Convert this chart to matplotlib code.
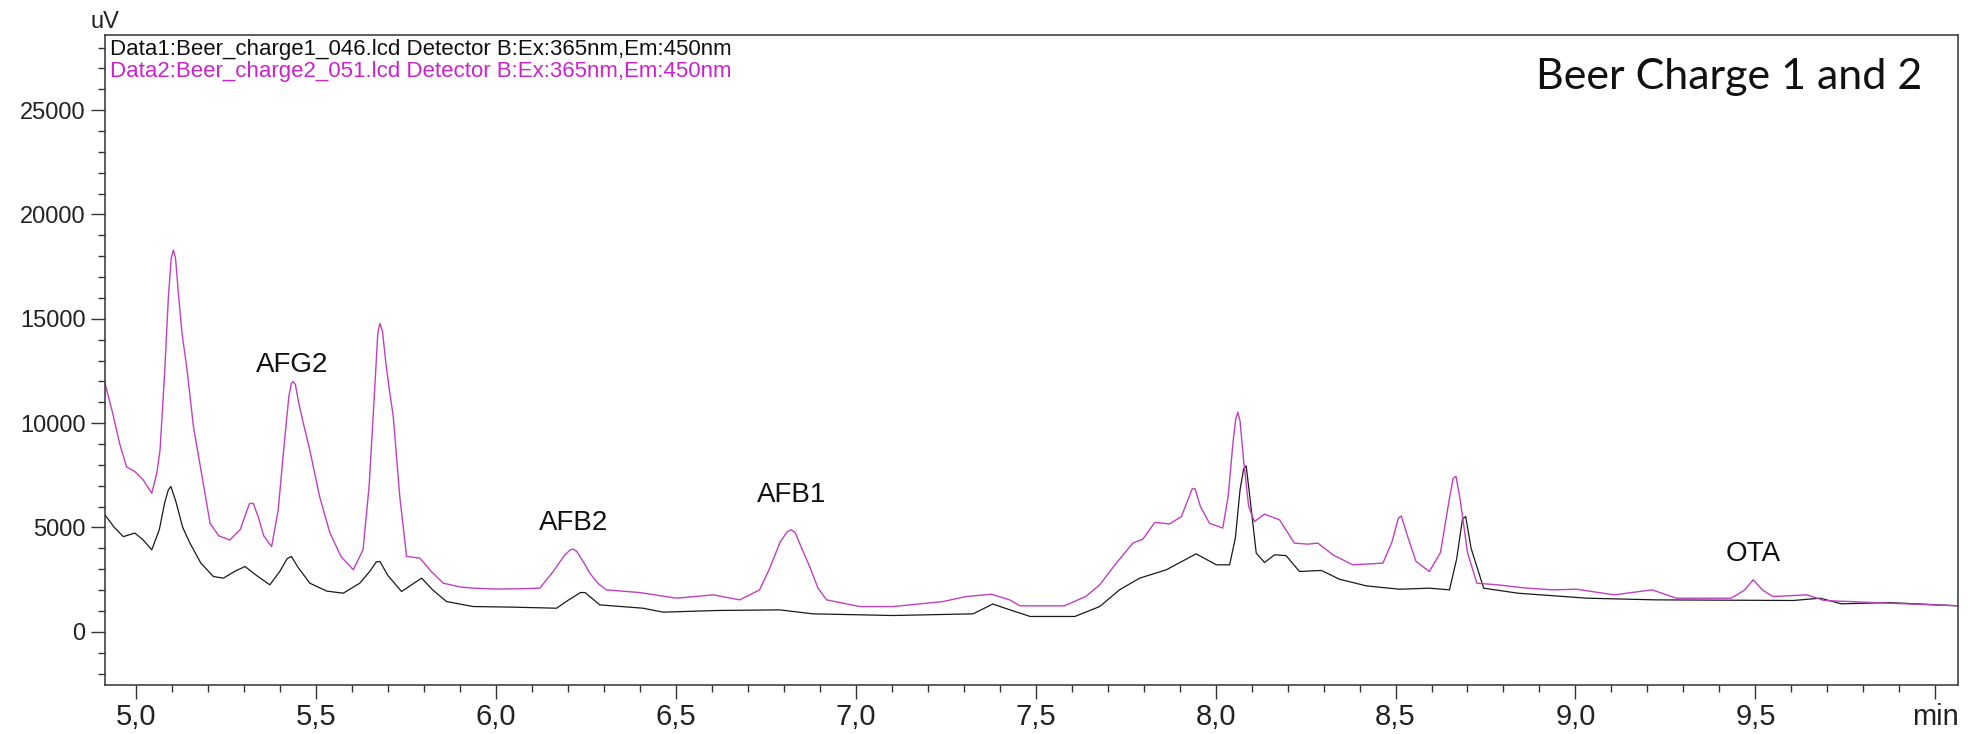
import matplotlib

matplotlib.use("Agg")
import matplotlib.pyplot as plt
from matplotlib import font_manager
from matplotlib.ticker import FixedLocator, MultipleLocator

# retention time (min) and signal (uV)
data2_time = [
    4.914, 4.935, 4.955, 4.974, 4.997, 5.020, 5.044, 5.058, 5.067, 5.080, 5.090, 5.098,
    5.104, 5.110, 5.118, 5.128, 5.141, 5.160, 5.187, 5.206, 5.230, 5.261, 5.290, 5.308,
    5.316, 5.326, 5.340, 5.355, 5.377, 5.395, 5.412, 5.425, 5.432, 5.437, 5.443, 5.452,
    5.465, 5.483, 5.510, 5.539, 5.570, 5.604, 5.631, 5.648, 5.663, 5.672, 5.678, 5.685,
    5.695, 5.705, 5.715, 5.733, 5.752, 5.789, 5.820, 5.854, 5.900, 5.937, 6.000, 6.060,
    6.122, 6.160, 6.190, 6.207, 6.215, 6.225, 6.245, 6.261, 6.285, 6.307, 6.400, 6.502,
    6.604, 6.678, 6.733, 6.760, 6.790, 6.810, 6.821, 6.832, 6.850, 6.872, 6.895, 6.919,
    7.011, 7.104, 7.243, 7.307, 7.377, 7.428, 7.456, 7.580, 7.640, 7.678, 7.724, 7.770,
    7.798, 7.831, 7.872, 7.905, 7.925, 7.935, 7.943, 7.958, 7.983, 8.020, 8.035, 8.048,
    8.056, 8.062, 8.068, 8.078, 8.092, 8.108, 8.136, 8.178, 8.219, 8.256, 8.284, 8.326,
    8.381, 8.465, 8.490, 8.508, 8.516, 8.535, 8.557, 8.594, 8.625, 8.648, 8.660, 8.668,
    8.680, 8.700, 8.726, 8.784, 8.860, 8.936, 9.003, 9.108, 9.213, 9.280, 9.433, 9.470,
    9.494, 9.520, 9.548, 9.643, 9.691, 9.872, 9.950, 10.063,
]
data2_uv = [
    11900, 10500, 9000, 7900, 7680, 7280, 6640, 7600, 8720, 12500, 16000, 17900,
    18300, 17900, 16200, 14300, 12700, 9800, 7120, 5200, 4600, 4400, 4900, 5800,
    6150, 6150, 5500, 4600, 4085, 5800, 9000, 11300, 11900, 11990, 11850, 11000,
    10000, 8720, 6500, 4740, 3600, 2970, 3930, 7000, 11500, 14300, 14780, 14400,
    12800, 11500, 10310, 6500, 3610, 3530, 2900, 2330, 2150, 2090, 2050, 2060,
    2090, 2900, 3650, 3930, 3960, 3850, 3300, 2810, 2300, 2010, 1880, 1610,
    1770, 1530, 2010, 3000, 4300, 4800, 4890, 4750, 4000, 3130, 2100, 1530,
    1210, 1210, 1450, 1690, 1800, 1530, 1245, 1245, 1700, 2250, 3290, 4250,
    4440, 5240, 5170, 5520, 6400, 6850, 6850, 6000, 5200, 4970, 6500, 9000,
    10200, 10520, 10100, 8200, 6000, 5280, 5640, 5360, 4250, 4200, 4250, 3690,
    3210, 3290, 4300, 5450, 5550, 4500, 3370, 2890, 3800, 6200, 7350, 7450,
    6300, 3800, 2330, 2250, 2100, 2010, 2040, 1770, 2010, 1610, 1610, 2000,
    2490, 2000, 1690, 1770, 1500, 1370, 1320, 1245,
]

data1_time = [
    4.914, 4.940, 4.965, 4.997, 5.020, 5.044, 5.065, 5.080, 5.090, 5.097, 5.110, 5.130,
    5.150, 5.180, 5.215, 5.243, 5.275, 5.303, 5.335, 5.372, 5.400, 5.420, 5.432, 5.450,
    5.483, 5.530, 5.576, 5.622, 5.650, 5.668, 5.678, 5.700, 5.738, 5.770, 5.794, 5.825,
    5.863, 5.937, 6.050, 6.169, 6.200, 6.235, 6.248, 6.289, 6.409, 6.465, 6.613, 6.789,
    6.881, 7.104, 7.326, 7.360, 7.381, 7.420, 7.485, 7.609, 7.678, 7.733, 7.789, 7.863,
    7.946, 8.002, 8.039, 8.055, 8.068, 8.078, 8.085, 8.095, 8.113, 8.136, 8.164, 8.196,
    8.233, 8.294, 8.344, 8.419, 8.511, 8.594, 8.650, 8.670, 8.686, 8.695, 8.710, 8.745,
    8.840, 9.032, 9.223, 9.605, 9.680, 9.739, 9.872, 10.063,
]
data1_uv = [
    5600, 5000, 4560, 4730, 4400, 3930, 4900, 6200, 6800, 6960, 6300, 5000,
    4250, 3300, 2650, 2570, 2900, 3130, 2700, 2250, 2900, 3500, 3610, 3100,
    2330, 1950, 1850, 2330, 2900, 3350, 3370, 2700, 1930, 2300, 2570, 2000,
    1450, 1210, 1180, 1130, 1500, 1880, 1880, 1290, 1130, 940, 1020, 1050,
    860, 780, 860, 1150, 1330, 1100, 734, 734, 1210, 2010, 2570, 2970,
    3735, 3210, 3210, 4500, 6800, 7800, 7950, 6500, 3770, 3320, 3690, 3650,
    2890, 2940, 2520, 2200, 2040, 2090, 2010, 3500, 5400, 5520, 4000, 2090,
    1850, 1610, 1530, 1500, 1610, 1340, 1400, 1245,
]

peak_names = ["AFG2", "AFB2", "AFB1", "OTA"]
peak_label_time = [5.433, 6.215, 6.822, 9.494]
peak_label_uv = [12470, 4885, 6240, 3370]

x_major = [5.0, 5.5, 6.0, 6.5, 7.0, 7.5, 8.0, 8.5, 9.0, 9.5, 10.0]
x_labels = ["5,0", "5,5", "6,0", "6,5", "7,0", "7,5", "8,0", "8,5", "9,0", "9,5", "min"]
y_major = [0, 5000, 10000, 15000, 20000, 25000]

data1_name = "Data1:Beer_charge1_046.lcd Detector B:Ex:365nm,Em:450nm"
data2_name = "Data2:Beer_charge2_051.lcd Detector B:Ex:365nm,Em:450nm"
title = "Beer Charge 1 and 2"

installed = {f.name for f in font_manager.fontManager.ttflist}
narrow = "Liberation Sans Narrow" if "Liberation Sans Narrow" in installed else "Liberation Sans"
plt.rcParams["font.family"] = ["Liberation Sans", "DejaVu Sans"]

W, H = 1978, 734
fig = plt.figure(figsize=(W / 100, H / 100), dpi=100)
ax = fig.add_axes([105 / W, 1 - 685 / H, (1958 - 105) / W, (685 - 35) / H])

ax.plot(data1_time, data1_uv, color="#1a1a1a", lw=0.9)
ax.plot(data2_time, data2_uv, color="#c040c0", lw=1.0)

for name, t, v in zip(peak_names, peak_label_time, peak_label_uv):
    ax.text(t, v, name, ha="center", va="baseline", fontsize=20, color="#111111")

ax.set_xlim(4.914, 10.063)
ax.set_ylim(-2550, 28600)

ax.xaxis.set_major_locator(FixedLocator(x_major))
ax.set_xticklabels(x_labels, fontsize=21, family=narrow, color="#222222")
ax.xaxis.set_minor_locator(MultipleLocator(0.1))
ax.yaxis.set_major_locator(FixedLocator(y_major))
ax.set_yticklabels([str(v) for v in y_major], fontsize=17, color="#222222")
ax.yaxis.set_minor_locator(MultipleLocator(1000))

ax.tick_params(which="major", direction="out", length=10, width=1.0, color="#333333")
ax.tick_params(which="minor", direction="out", length=5, width=1.0, color="#333333")
ax.tick_params(axis="y", which="major", pad=4)
ax.tick_params(axis="x", which="major", pad=3)
for sp in ax.spines.values():
    sp.set_color("#333333")
    sp.set_linewidth(1.1)

fig.text(105 / W, 1 - 22 / H, "uV", ha="center", va="center", fontsize=17, color="#222222")
fig.text(110 / W, 1 - 50 / H, data1_name, ha="left", va="center", fontsize=16, color="#111111")
fig.text(110 / W, 1 - 72 / H, data2_name, ha="left", va="center", fontsize=16, color="#cc22cc")
fig.text(1922 / W, 1 - 77 / H, title, ha="right", va="center", fontsize=31,
         family=["Lato", "DejaVu Sans"], color="#111111")

fig.savefig("out.png", dpi=100)
